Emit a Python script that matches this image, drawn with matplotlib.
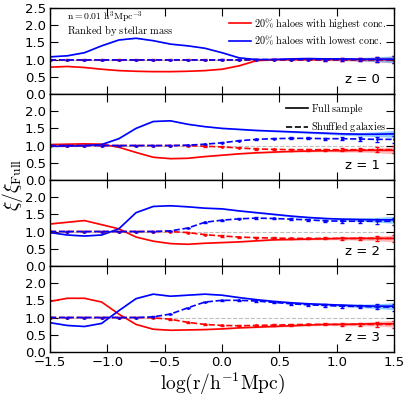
import numpy as np
import matplotlib
matplotlib.use('Agg')
import matplotlib.pyplot as plt

plt.rcParams['mathtext.fontset'] = 'cm'

# radial bins, log(r / h^-1 Mpc)
logr = [-1.5, -1.35, -1.2, -1.05, -0.9, -0.75, -0.6, -0.45, -0.3, -0.15, 0.0,
        0.15, 0.3, 0.45, 0.6, 0.75, 0.9, 1.05, 1.2, 1.35, 1.5]

redshifts = [0, 1, 2, 3]

# ratio xi/xi_full, 20% highest conc. (red) and lowest conc. (blue)
hi_full = [
    [0.78, 0.80, 0.77, 0.72, 0.68, 0.66, 0.65, 0.65, 0.66, 0.68, 0.72, 0.82, 0.97, 1.0, 1.0, 1.0, 1.0, 1.0, 1.0, 1.0, 1.0],
    [1.03, 1.04, 1.05, 1.04, 0.95, 0.80, 0.66, 0.62, 0.63, 0.68, 0.72, 0.76, 0.79, 0.81, 0.83, 0.84, 0.85, 0.85, 0.86, 0.86, 0.86],
    [1.22, 1.27, 1.32, 1.20, 1.08, 0.84, 0.72, 0.65, 0.63, 0.66, 0.68, 0.70, 0.73, 0.76, 0.77, 0.78, 0.79, 0.80, 0.80, 0.80, 0.80],
    [1.47, 1.56, 1.56, 1.45, 1.10, 0.80, 0.66, 0.63, 0.64, 0.65, 0.67, 0.70, 0.72, 0.74, 0.76, 0.78, 0.80, 0.80, 0.81, 0.82, 0.82],
]
lo_full = [
    [1.08, 1.11, 1.20, 1.40, 1.57, 1.62, 1.55, 1.45, 1.40, 1.33, 1.20, 1.05, 1.0, 1.0, 1.02, 1.03, 1.02, 1.02, 1.01, 1.01, 1.01],
    [0.98, 0.98, 1.00, 1.03, 1.20, 1.50, 1.70, 1.72, 1.62, 1.55, 1.50, 1.47, 1.44, 1.42, 1.40, 1.38, 1.36, 1.34, 1.33, 1.33, 1.34],
    [0.97, 0.90, 0.87, 0.90, 1.08, 1.55, 1.73, 1.75, 1.72, 1.68, 1.66, 1.60, 1.55, 1.50, 1.45, 1.41, 1.38, 1.36, 1.35, 1.34, 1.34],
    [0.85, 0.77, 0.74, 0.83, 1.20, 1.55, 1.68, 1.62, 1.65, 1.68, 1.65, 1.58, 1.52, 1.47, 1.43, 1.40, 1.38, 1.36, 1.34, 1.33, 1.33],
]
# shuffled galaxies
hi_shuf = [
    [1.0, 1.0, 1.0, 1.0, 1.0, 1.0, 1.0, 1.0, 1.0, 1.0, 1.0, 1.0, 1.0, 1.0, 1.0, 1.0, 1.0, 1.0, 1.0, 1.0, 1.0],
    [1.0, 1.0, 1.0, 1.0, 1.0, 1.0, 1.0, 1.0, 1.0, 0.98, 0.96, 0.93, 0.90, 0.89, 0.88, 0.88, 0.88, 0.88, 0.88, 0.88, 0.88],
    [1.0, 1.0, 1.0, 1.0, 1.0, 1.0, 1.0, 1.0, 0.97, 0.91, 0.87, 0.84, 0.82, 0.81, 0.80, 0.80, 0.80, 0.80, 0.80, 0.80, 0.80],
    [1.0, 1.0, 1.0, 1.0, 1.0, 1.0, 0.99, 0.95, 0.86, 0.80, 0.77, 0.76, 0.77, 0.78, 0.79, 0.80, 0.80, 0.80, 0.80, 0.80, 0.80],
]
lo_shuf = [
    [0.99, 0.99, 0.99, 0.99, 0.99, 0.99, 0.99, 0.99, 0.99, 0.99, 0.99, 0.99, 1.0, 1.0, 1.0, 1.0, 1.0, 1.0, 1.0, 1.0, 1.0],
    [1.0, 1.0, 1.0, 1.0, 1.0, 1.0, 1.0, 1.0, 1.01, 1.04, 1.08, 1.14, 1.18, 1.20, 1.21, 1.21, 1.20, 1.20, 1.19, 1.18, 1.18],
    [1.0, 1.0, 1.0, 1.0, 1.0, 1.0, 1.0, 1.02, 1.10, 1.27, 1.33, 1.37, 1.39, 1.38, 1.36, 1.34, 1.31, 1.30, 1.30, 1.30, 1.30],
    [1.0, 1.0, 1.0, 1.0, 1.0, 1.0, 1.02, 1.10, 1.28, 1.45, 1.50, 1.50, 1.48, 1.44, 1.40, 1.37, 1.35, 1.33, 1.32, 1.31, 1.30],
]
# error estimate (band half width)
err = [0.01, 0.01, 0.01, 0.01, 0.01, 0.01, 0.01, 0.01, 0.01, 0.01, 0.015,
       0.015, 0.02, 0.02, 0.025, 0.025, 0.03, 0.04, 0.05, 0.07, 0.1]

x = np.array(logr)
e = np.array(err)

fig, axes = plt.subplots(nrows=4, sharex=True, figsize=(4.07, 3.99), dpi=100)
fig.subplots_adjust(left=0.123, right=0.968, top=0.98, bottom=0.118, hspace=0)

for i, ax in enumerate(axes):
    ax.axhline(1.0, color='0.75', ls='--', lw=0.8, zorder=0)
    ax.fill_between(x, np.array(hi_full[i]) - e, np.array(hi_full[i]) + e,
                    color='#ff7a7a', alpha=0.5, lw=0)
    ax.fill_between(x, np.array(lo_full[i]) - e, np.array(lo_full[i]) + e,
                    color='#40a8ff', alpha=0.6, lw=0)
    ax.plot(x, hi_full[i], color='#ff0000', lw=1.2, label='$\\rm 20\\%\\ haloes\\ with\\ highest\\ conc.$')
    ax.plot(x, lo_full[i], color='#0000ff', lw=1.2, label='$\\rm 20\\%\\ haloes\\ with\\ lowest\\ conc.$')
    ax.errorbar(x, hi_shuf[i], yerr=e, color='#ff0000', ls='--', lw=1.2,
                elinewidth=0.6, capsize=1.2, marker='.', ms=2)
    ax.errorbar(x, lo_shuf[i], yerr=e, color='#0000ff', ls='--', lw=1.2,
                elinewidth=0.6, capsize=1.2, marker='.', ms=2)

    ax.text(0.96, 0.165, 'z = %d' % redshifts[i], transform=ax.transAxes,
            ha='right', va='center', fontsize=9.5)

    ax.set_xlim(-1.5, 1.5)
    ax.set_ylim(0, 2.5)
    if i == 0:
        ax.set_yticks([0.0, 0.5, 1.0, 1.5, 2.0, 2.5])
    else:
        ax.set_yticks([0.0, 0.5, 1.0, 1.5, 2.0])
    ax.set_xticks([-1.5, -1.0, -0.5, 0.0, 0.5, 1.0, 1.5])
    ax.tick_params(direction='in', length=6, width=0.8, top=True, right=True,
                   labelsize=9.5, pad=3)
    for s in ax.spines.values():
        s.set_linewidth(1.0)

axes[0].text(0.05, 0.895, '$\\rm n = 0.01\\ h^3Mpc^{-3}$', transform=axes[0].transAxes,
             fontsize=7, va='center')
axes[0].text(0.05, 0.73, '$\\rm Ranked\\ by\\ stellar\\ mass$', transform=axes[0].transAxes,
             fontsize=7.5, va='center')
axes[0].legend(loc='upper right', fontsize=7.3, frameon=False, handlelength=2.2,
               handletextpad=0.3, borderaxespad=0.35, labelspacing=0.35)

h1, = axes[1].plot([], [], 'k-', lw=1.2)
h2, = axes[1].plot([], [], 'k--', lw=1.2)
axes[1].legend([h1, h2], ['$\\rm Full\\ sample$', '$\\rm Shuffled\\ galaxies$'],
               loc='upper right', fontsize=7.3, frameon=False, handlelength=2.2,
               handletextpad=0.3, borderaxespad=0.35, labelspacing=0.35)

fig.text(0.03, 0.536, '$\\xi/\\xi_{\\rm Full}$', rotation=90, fontsize=14,
         ha='center', va='center')
axes[-1].set_xlabel('$\\log(\\rm r/h^{-1}Mpc)$', fontsize=14, labelpad=1)

plt.savefig('out.png')
